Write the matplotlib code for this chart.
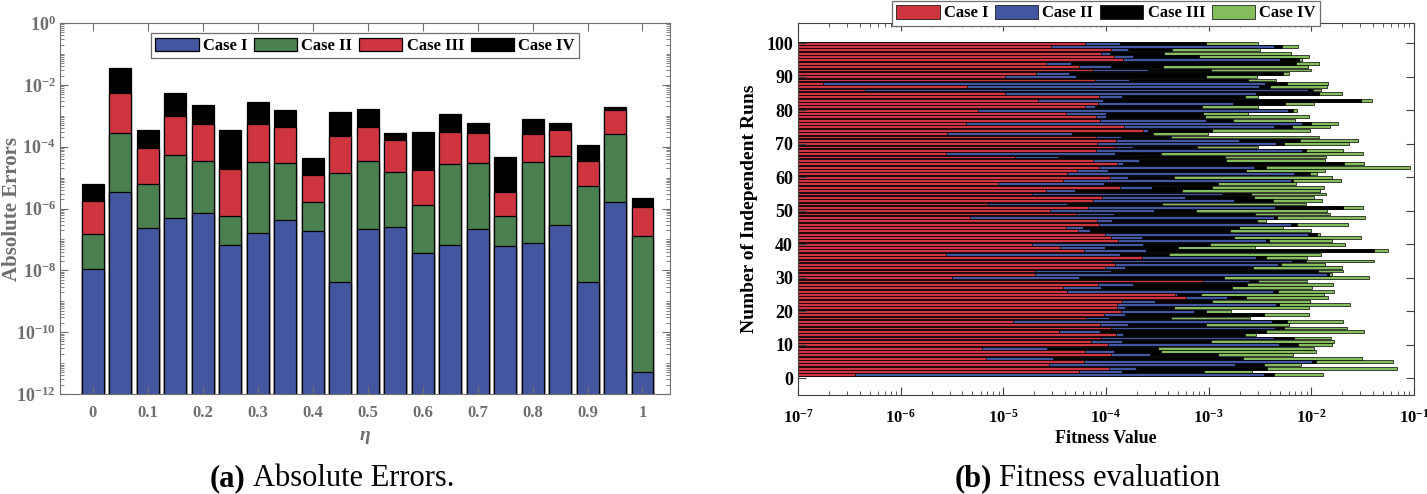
import numpy as np
import matplotlib
matplotlib.use('Agg')
import matplotlib.pyplot as plt
from matplotlib.ticker import FuncFormatter, LogLocator, FixedLocator, NullFormatter

plt.rcParams['font.family'] = ['Liberation Serif', 'DejaVu Serif']
plt.rcParams['mathtext.fontset'] = 'custom'
plt.rcParams['mathtext.rm'] = 'Liberation Serif:bold'
plt.rcParams['mathtext.bf'] = 'Liberation Serif:bold'
plt.rcParams['mathtext.it'] = 'Liberation Serif:bold:italic'

# ---- (a) absolute errors, value of each case for every eta ----
eta = [0, 0.05, 0.1, 0.15, 0.2, 0.25, 0.3, 0.35, 0.4, 0.45, 0.5,
       0.55, 0.6, 0.65, 0.7, 0.75, 0.8, 0.85, 0.9, 0.95, 1.0]
err_case1 = [1.07e-8, 3.5e-6, 2.4e-7, 5.0e-7, 7.1e-7, 6.4e-8, 1.65e-7, 4.4e-7, 1.85e-7, 4.2e-9, 2.1e-7,
             2.5e-7, 3.6e-8, 6.4e-8, 2.2e-7, 6.0e-8, 7.9e-8, 3.0e-7, 4.3e-9, 1.6e-6, 5.2e-12]
err_case2 = [1.5e-7, 2.8e-4, 6.0e-6, 5.4e-5, 3.5e-5, 5.7e-7, 3.2e-5, 3.0e-5, 1.66e-6, 1.44e-5, 3.4e-5,
             1.47e-5, 1.26e-6, 2.8e-5, 3.0e-5, 5.9e-7, 3.2e-5, 5.0e-5, 5.3e-6, 2.6e-4, 1.3e-7]
err_case3 = [1.8e-6, 5.6e-3, 9.3e-5, 9.5e-4, 5.5e-4, 1.85e-5, 5.3e-4, 4.2e-4, 1.24e-5, 2.15e-4, 4.4e-4,
             1.6e-4, 1.7e-5, 3.0e-4, 2.8e-4, 3.3e-6, 2.6e-4, 3.5e-4, 3.5e-5, 1.5e-3, 1.15e-6]
err_case4 = [6.3e-6, 3.5e-2, 3.5e-4, 5.6e-3, 2.3e-3, 3.5e-4, 2.8e-3, 1.5e-3, 4.2e-5, 1.3e-3, 1.6e-3,
             2.7e-4, 3.0e-4, 1.1e-3, 5.9e-4, 4.5e-5, 7.6e-4, 5.9e-4, 1.12e-4, 1.9e-3, 2.2e-6]

# ---- (b) fitness of 100 independent runs (run 1 .. 100) ----
runs = np.arange(1, 101)
fit_case1 = [3.6e-7, 5.5e-5, 1.07e-4, 2.78e-5, 6.05e-5, 6.8e-6, 1.11e-4, 6.2e-5, 6.2e-6, 1.05e-4,
             7.2e-5, 8.9e-5, 1.25e-4, 3.5e-5, 1.11e-4, 8.8e-5, 1.24e-5, 6.4e-5, 9.6e-5, 1.39e-4,
             1.27e-4, 1.29e-4, 1.42e-4, 6.0e-4, 4.67e-4, 4.15e-5, 3.8e-5, 8.4e-5, 8.8e-4, 3.15e-6,
             2.03e-5, 2.03e-5, 9.7e-5, 1.22e-4, 1.17e-4, 2.22e-4, 2.75e-6, 6.05e-5, 3.55e-5, 1.89e-5,
             1.31e-4, 1.11e-4, 9.7e-5, 5.3e-5, 4.05e-5, 8.5e-5, 8.2e-5, 4.7e-6, 5.1e-5, 2.83e-5,
             6.7e-5, 7.05e-6, 7.5e-5, 9.2e-5, 1.9e-5, 2.6e-5, 1.37e-4, 8.9e-6, 3.8e-5, 1.09e-4,
             4.15e-5, 5.2e-5, 8.5e-5, 1.27e-4, 7.5e-5, 1.3e-5, 2.78e-6, 8.0e-5, 1.22e-4, 8.1e-5,
             1.26e-4, 8.0e-5, 2.85e-6, 2.28e-4, 1.5e-4, 4.35e-6, 8.8e-5, 8.0e-5, 4.05e-5, 5.7e-6,
             6.2e-5, 8.4e-5, 2.16e-5, 8.5e-5, 1.04e-5, 4.5e-7, 4.4e-6, 1.75e-7, 7.9e-5, 1.04e-5,
             2.09e-5, 7.5e-5, 5.45e-5, 2.6e-5, 1.47e-4, 1.19e-4, 9.0e-5, 1.11e-4, 2.9e-5, 6.2e-5]
fit_case2 = [3.47e-3, 1.43e-4, 1.96e-4, 1.8e-3, 1.02e-2, 3.04e-5, 2.66e-4, 1.19e-4, 2.65e-5, 4.85e-3,
             1.43e-4, 4.35e-3, 1.46e-4, 8.8e-5, 4.45e-3, 1.64e-4, 4.1e-3, 1.07e-4, 1.52e-4, 7.2e-4,
             1.52e-4, 4.55e-3, 2.98e-4, 1.51e-3, 4.97e-4, 4.25e-3, 8.9e-5, 1.82e-4, 2.47e-3, 5.45e-5,
             1.42e-2, 1.13e-4, 1.52e-4, 4.7e-3, 6.45e-3, 2.88e-3, 1.37e-4, 2.43e-4, 9.7e-5, 2.28e-4,
             3.6e-3, 2.22e-4, 9.3e-3, 7.0e-5, 6.0e-5, 6.3e-3, 1.15e-4, 4.3e-3, 1.2e-4, 2.93e-4,
             4.45e-3, 4.2e-5, 1.76e-3, 5.85e-4, 1.36e-3, 5.0e-5, 2.78e-4, 9.5e-5, 6.3e-3, 1.64e-4,
             6.75e-3, 1.04e-4, 2.76e-3, 1.48e-4, 2.09e-4, 3.4e-5, 1.22e-4, 8.1e-3, 1.82e-4, 4.55e-3,
             1.98e-3, 1.39e-4, 4.7e-5, 2.56e-4, 4.3e-3, 8.1e-3, 9.5e-4, 1.0e-4, 1.0e-4, 5.95e-3,
             7.9e-5, 1.71e-3, 9.3e-5, 1.43e-4, 2.88e-3, 9.3e-3, 3.1e-3, 3.55e-3, 1.67e-4, 5.1e-5,
             4.35e-5, 2.56e-4, 1.11e-4, 4.55e-5, 4.9e-3, 1.82e-4, 1.1e-4, 1.64e-4, 4.35e-3, 1.37e-4]
fit_case3 = [4.35e-3, 9.1e-4, 3.7e-3, 3.47e-3, 1.1e-2, 2.16e-3, 1.24e-3, 3.47e-4, 3.18e-4, 7.4e-3,
             1.05e-3, 6.75e-3, 2.24e-3, 3.6e-3, 5.4e-3, 9.4e-4, 5.8e-3, 4.3e-4, 3.45e-3, 9.4e-4,
             4.55e-4, 4.85e-3, 1.08e-3, 2.3e-3, 8.4e-4, 4.7e-3, 1.7e-3, 2.37e-3, 3.0e-3, 1.4e-3,
             1.48e-2, 1.15e-2, 2.7e-3, 5.1e-3, 8.9e-3, 3.6e-3, 4.1e-4, 4.1e-2, 5.0e-4, 1.03e-3,
             3.9e-3, 1.78e-3, 1.13e-2, 1.61e-3, 1.98e-3, 7.2e-3, 2.96e-3, 4.65e-3, 2.83e-3, 7.5e-4,
             2.03e-2, 3.5e-4, 4.2e-3, 2.76e-3, 2.56e-3, 5.5e-4, 1.07e-3, 1.23e-3, 6.7e-3, 4.55e-4,
             9.6e-3, 2.3e-3, 3.64e-3, 2.1e-2, 1.48e-3, 1.44e-3, 3.4e-4, 8.8e-3, 7.65e-4, 5.4e-3,
             7.7e-3, 4.3e-4, 2.9e-4, 1.07e-3, 6.5e-3, 1.0e-2, 1.74e-3, 9.3e-4, 8.8e-4, 6.6e-3,
             8.6e-4, 5.6e-3, 3.04e-2, 2.26e-3, 1.19e-2, 1.04e-2, 3.98e-3, 5.8e-3, 2.39e-3, 9.4e-4,
             5.35e-3, 1.05e-3, 3.6e-4, 7.1e-3, 7.5e-3, 8.0e-4, 3.7e-4, 4.35e-4, 5.2e-3, 9.4e-4]
fit_case4 = [1.29e-2, 2.66e-3, 6.9e-2, 7.9e-3, 6.2e-2, 3.1e-2, 6.6e-3, 1.1e-2, 1.05e-2, 1.6e-2,
             1.68e-2, 1.55e-2, 2.9e-3, 3.25e-2, 2.22e-2, 6.05e-3, 2.03e-2, 2.54e-3, 9.5e-3, 1.65e-3,
             9.5e-3, 2.39e-2, 9.7e-3, 1.46e-2, 1.32e-2, 1.67e-2, 1.02e-2, 1.62e-2, 9.1e-3, 3.67e-2,
             1.6e-2, 2.05e-2, 1.98e-2, 1.37e-2, 4.1e-2, 9.1e-3, 1.25e-2, 5.6e-2, 2.83e-3, 2.14e-2,
             1.6e-2, 3.04e-2, 1.22e-2, 1.0e-2, 5.3e-3, 2.26e-2, 3.6e-3, 3.35e-2, 1.52e-2, 1.42e-2,
             3.2e-2, 8.9e-3, 1.27e-2, 1.06e-2, 1.38e-2, 1.22e-2, 1.32e-2, 7.05e-3, 1.94e-2, 1.58e-2,
             1.14e-2, 1.36e-2, 9.2e-2, 3.25e-2, 1.37e-2, 1.39e-2, 3.2e-2, 2.03e-2, 3.0e-3, 2.32e-2,
             2.83e-2, 1.19e-2, 9.8e-4, 9.7e-3, 1.52e-2, 1.81e-2, 6.9e-3, 9.5e-3, 2.4e-3, 7.3e-3,
             3.0e-3, 1.05e-2, 3.9e-2, 3.04e-3, 2.0e-2, 1.25e-2, 1.42e-2, 1.46e-2, 4.55e-3, 2.96e-3,
             6.1e-3, 9.9e-3, 9.3e-3, 1.19e-2, 8.2e-3, 9.5e-3, 6.4e-3, 3.16e-3, 7.4e-3, 3.0e-3]

case_names = ['Case I', 'Case II', 'Case III', 'Case IV']

BLUE = '#4357a0'
DGREEN = '#4a7f4f'
RED = '#cf353e'
LGREEN = '#84bd5c'
GRAY = '#6e6e6e'


def sci(v, pos):
    e = int(round(np.log10(v)))
    return r'$\mathbf{10^{%d}}$' % e


fig = plt.figure(figsize=(14.27, 4.94), dpi=100)

# ------------------------------------------------ (a)
ax1 = fig.add_axes([0.042, 0.2024, 0.4275, 0.751])
series_a = [err_case4, err_case3, err_case2, err_case1]
colors_a = ['black', RED, DGREEN, BLUE]
handles = {}
for i, (vals, col) in enumerate(zip(series_a, colors_a)):
    b = ax1.bar(eta, vals, width=0.04, bottom=1e-14, color=col, edgecolor='black',
                linewidth=0.9, zorder=1 + 0.1 * i)
    handles[col] = b
ax1.set_yscale('log')
ax1.set_ylim(1e-12, 1)
ax1.set_xlim(-0.06, 1.05)
ax1.set_yticks([1e0, 1e-2, 1e-4, 1e-6, 1e-8, 1e-10, 1e-12])
ax1.yaxis.set_major_formatter(FuncFormatter(sci))
ax1.yaxis.set_minor_locator(LogLocator(base=10, subs=np.arange(1, 10), numticks=60))
ax1.yaxis.set_minor_formatter(NullFormatter())
ax1.set_xticks([0, 0.1, 0.2, 0.3, 0.4, 0.5, 0.6, 0.7, 0.8, 0.9, 1.0])
ax1.set_xticklabels(['0', '0.1', '0.2', '0.3', '0.4', '0.5', '0.6', '0.7', '0.8', '0.9', '1'])
ax1.tick_params(axis='both', which='both', direction='in', top=True, right=True,
                colors=GRAY, labelcolor=GRAY)
ax1.tick_params(axis='y', which='major', length=6, labelsize=13, pad=3)
ax1.tick_params(axis='y', which='minor', length=3)
ax1.tick_params(axis='x', which='major', length=6, labelsize=12, pad=8)
for lab in ax1.get_xticklabels():
    lab.set_fontweight('bold')
for s in ax1.spines.values():
    s.set_color(GRAY)
ax1.set_ylabel('Absolute Errors', fontsize=15, fontweight='bold', color=GRAY)
ax1.yaxis.set_label_coords(-0.062, 0.5)
ax1.set_xlabel(r'$\mathit{\eta}$', fontsize=14, color=GRAY, labelpad=6)
leg1 = ax1.legend([handles[BLUE], handles[DGREEN], handles[RED], handles['black']], case_names,
                  loc='upper center', bbox_to_anchor=(0.5, 0.972), ncol=4, fancybox=False,
                  edgecolor=GRAY, prop={'weight': 'bold', 'size': 12}, handlelength=2.6,
                  handleheight=0.9, handletextpad=0.25, columnspacing=0.4, borderpad=0.25,
                  borderaxespad=0.0, framealpha=1)
leg1.get_frame().set_linewidth(0.9)

# ------------------------------------------------ (b)
ax2 = fig.add_axes([0.5592, 0.2004, 0.4317, 0.753])
series_b = [fit_case4, fit_case3, fit_case2, fit_case1]
colors_b = [LGREEN, 'black', BLUE, RED]
hb = {}
for i, (vals, col) in enumerate(zip(series_b, colors_b)):
    b = ax2.barh(runs, vals, height=0.85, left=1e-10, color=col, edgecolor='black',
                 linewidth=0.5, zorder=1 + 0.1 * i)
    hb[col] = b
ax2.set_xscale('log')
ax2.set_xlim(1e-7, 1e-1)
ax2.set_ylim(-5, 106)
ax2.set_yticks(np.arange(0, 101, 10))
ax2.xaxis.set_major_locator(FixedLocator([1e-7, 1e-6, 1e-5, 1e-4, 1e-3, 1e-2, 1e-1]))
ax2.xaxis.set_major_formatter(FuncFormatter(sci))
ax2.xaxis.set_minor_locator(LogLocator(base=10, subs=np.arange(2, 10), numticks=60))
ax2.xaxis.set_minor_formatter(NullFormatter())
ax2.tick_params(axis='both', which='both', direction='in', top=True, right=True,
                colors='#404040', labelcolor='black')
ax2.tick_params(axis='y', which='major', length=6, labelsize=13)
ax2.tick_params(axis='x', which='major', length=6, labelsize=12, pad=10)
ax2.tick_params(axis='both', which='minor', length=3)
for lab in ax2.get_yticklabels():
    lab.set_fontweight('bold')
for s in ax2.spines.values():
    s.set_color('#404040')
ax2.set_xlabel('Fitness Value', fontsize=13, fontweight='bold', labelpad=2)
ax2.set_ylabel('Number of Independent Runs', fontsize=14, fontweight='bold', labelpad=6)
leg2 = ax2.legend([hb[RED], hb[BLUE], hb['black'], hb[LGREEN]], case_names,
                  loc='lower center', bbox_to_anchor=(0.5, 0.993), ncol=4, fancybox=False,
                  edgecolor=GRAY, prop={'weight': 'bold', 'size': 12}, handlelength=2.6,
                  handleheight=0.9, handletextpad=0.25, columnspacing=0.4, borderpad=0.25,
                  borderaxespad=0.0, framealpha=1)
leg2.get_frame().set_linewidth(0.9)

# ------------------------------------------------ captions
cap_y = 0.016
fig.text(0.172, cap_y, '(a)', fontsize=22, fontweight='bold', ha='right', va='baseline')
fig.text(0.177, cap_y, 'Absolute Errors.', fontsize=22, ha='left', va='baseline')
fig.text(0.695, cap_y, '(b)', fontsize=22, fontweight='bold', ha='right', va='baseline')
fig.text(0.700, cap_y, 'Fitness evaluation', fontsize=22, ha='left', va='baseline')

fig.savefig('out.png', dpi=100)
